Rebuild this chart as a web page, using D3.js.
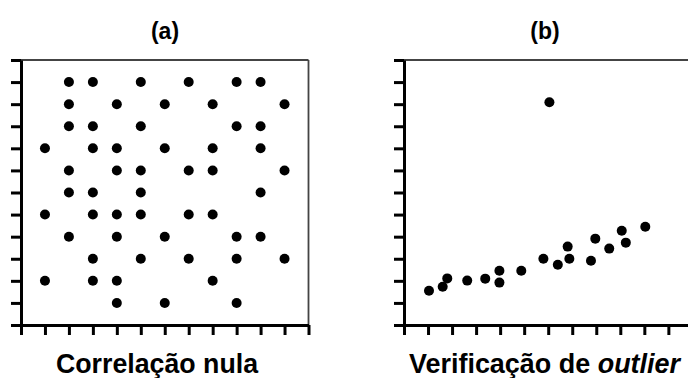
<!DOCTYPE html>
<html>
<head>
<meta charset="utf-8">
<script src="https://cdn.jsdelivr.net/npm/d3@7"></script>
<style>
  body { margin: 0; background: #fff; }
  svg { display: block; }
</style>
</head>
<body>
<div id="chart"></div>
<script>
// (a) correlação nula: pontos em grade (coluna, linha)
const nullX = [2,3,5,7,9,10, 2,4,6,8,11, 2,3,5,9,10, 1,3,4,6,8,10, 2,4,5,7,8,11, 2,3,5,10, 1,3,4,5,7,8, 2,4,6,9,10, 3,5,7,9,11, 1,3,4,8, 4,6,9];
const nullY = [11,11,11,11,11,11, 10,10,10,10,10, 9,9,9,9,9, 8,8,8,8,8,8, 7,7,7,7,7,7, 6,6,6,6, 5,5,5,5,5,5, 4,4,4,4,4, 3,3,3,3,3, 2,2,2,2, 1,1,1];

// (b) verificação de outlier
const outX = [1.04, 1.61, 1.80, 2.63, 3.38, 3.97, 3.97, 4.88, 5.80, 6.40, 6.81, 6.88, 7.78, 7.96, 8.54, 9.06, 9.23, 10.04, 6.05];
const outY = [1.55, 1.73, 2.11, 2.01, 2.10, 2.46, 1.92, 2.46, 3.00, 2.73, 3.55, 3.00, 2.91, 3.91, 3.46, 4.27, 3.73, 4.45, 10.09];

const ticks = d3.range(0, 13);

const width = 688, height = 378;
const svg = d3.select('#chart').append('svg')
    .attr('width', width)
    .attr('height', height);

const y = d3.scaleLinear().domain([0, 12]).range([325, 60]);

function panel(x, xs, ys, title, label) {
    const g = svg.append('g');

    // moldura superior e direita
    g.append('line')
        .attr('x1', x(0)).attr('x2', x(12))
        .attr('y1', y(12)).attr('y2', y(12))
        .attr('stroke', '#444').attr('stroke-width', 1.8);
    g.append('line')
        .attr('x1', x(12)).attr('x2', x(12))
        .attr('y1', y(12)).attr('y2', y(0))
        .attr('stroke', '#444').attr('stroke-width', 1.8);

    const xAxis = d3.axisBottom(x).tickValues(ticks).tickFormat('')
        .tickSizeInner(10).tickSizeOuter(0);
    const yAxis = d3.axisLeft(y).tickValues(ticks).tickFormat('')
        .tickSizeInner(10).tickSizeOuter(0);

    g.append('g').attr('transform', `translate(0,${y(0)})`).call(xAxis)
        .call(a => a.selectAll('path,line').attr('stroke', '#000').attr('stroke-width', 3));
    g.append('g').attr('transform', `translate(${x(0)},0)`).call(yAxis)
        .call(a => a.selectAll('path,line').attr('stroke', '#000').attr('stroke-width', 3));

    g.selectAll('circle')
        .data(xs.map((v, i) => [v, ys[i]]))
        .enter()
        .append('circle')
        .attr('cx', d => x(d[0]))
        .attr('cy', d => y(d[1]))
        .attr('r', 5)
        .attr('fill', '#000');

    g.append('text')
        .attr('x', title.x).attr('y', 39)
        .attr('text-anchor', 'middle')
        .attr('font-family', 'Liberation Sans, Arial, sans-serif')
        .attr('font-weight', 'bold')
        .attr('font-size', 23)
        .text(title.text);

    const t = g.append('text')
        .attr('x', label.x).attr('y', 373)
        .attr('text-anchor', 'middle')
        .attr('font-family', 'Liberation Sans, Arial, sans-serif')
        .attr('font-weight', 'bold')
        .attr('font-size', 27)
        .attr('textLength', label.w)
        .attr('lengthAdjust', 'spacingAndGlyphs');
    label.parts.forEach(p => {
        t.append('tspan').attr('font-style', p.italic ? 'italic' : 'normal').text(p.s);
    });
}

const xa = d3.scaleLinear().domain([0, 12]).range([21, 308.5]);
const xb = d3.scaleLinear().domain([0, 12]).range([404, 692.4]);

panel(xa, nullX, nullY, { text: '(a)', x: 165 },
    { x: 157, w: 202, parts: [{ s: 'Correlação nula' }] });
panel(xb, outX, outY, { text: '(b)', x: 545 },
    { x: 544.5, w: 271, parts: [{ s: 'Verificação de ' }, { s: 'outlier', italic: true }] });
</script>
</body>
</html>
